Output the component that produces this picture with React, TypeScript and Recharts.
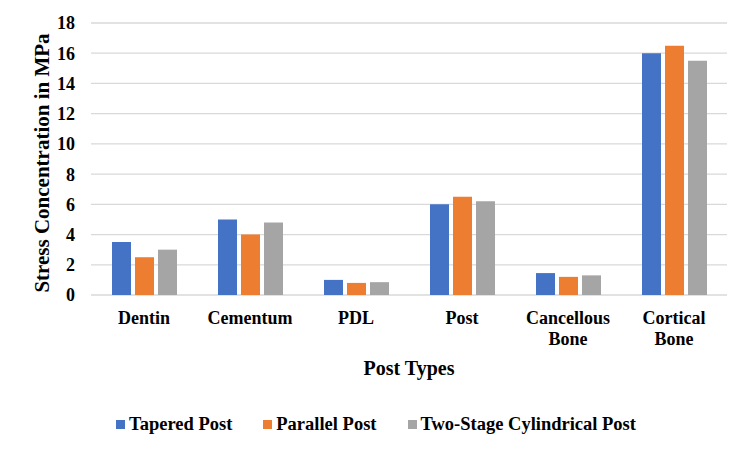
import React from 'react';
import { BarChart, Bar, XAxis, YAxis, CartesianGrid, Legend, Label } from 'recharts';

// Tooth-structure regions along the x axis
const categories = ['Dentin', 'Cementum', 'PDL', 'Post', 'Cancellous Bone', 'Cortical Bone'];

// Stress concentration (MPa) per post design
const taperedPost = [3.5, 5.0, 1.0, 6.0, 1.45, 16.0];
const parallelPost = [2.5, 4.0, 0.8, 6.5, 1.2, 16.5];
const twoStagePost = [3.0, 4.8, 0.85, 6.2, 1.3, 15.5];

const seriesNames = ['Tapered Post', 'Parallel Post', 'Two-Stage Cylindrical Post'];
const yTicks = [0, 2, 4, 6, 8, 10, 12, 14, 16, 18];
const xTitle = 'Post Types';
const yTitle = 'Stress Concentration in MPa';

const COLORS = ['#4472C4', '#ED7D31', '#A5A5A5'];
const FONT = '"Liberation Serif", "Times New Roman", serif';

const data = categories.map((name, i) => ({
  name,
  tapered: taperedPost[i],
  parallel: parallelPost[i],
  twoStage: twoStagePost[i],
}));

const CategoryTick = (props: any) => {
  const { x, y, payload } = props;
  const lines = String(payload.value).split(' ');
  return (
    <text
      x={x}
      y={y}
      textAnchor="middle"
      style={{ fontFamily: FONT, fontWeight: 'bold', fontSize: 18, fill: '#000' }}
    >
      {lines.map((line, i) => (
        <tspan key={i} x={x} dy={i === 0 ? '0.71em' : 21}>
          {line}
        </tspan>
      ))}
    </text>
  );
};

const YTitle = (props: any) => {
  const { viewBox } = props;
  const cx = 42;
  const cy = viewBox.y + viewBox.height / 2 + 4;
  return (
    <text
      x={cx}
      y={cy}
      transform={`rotate(-90 ${cx} ${cy})`}
      textAnchor="middle"
      dominantBaseline="central"
      style={{ fontFamily: FONT, fontWeight: 'bold', fontSize: 21, fill: '#000' }}
    >
      {yTitle}
    </text>
  );
};

const LegendContent = (props: any) => {
  const { payload } = props;
  return (
    <div
      style={{
        display: 'flex',
        alignItems: 'center',
        fontFamily: FONT,
        fontWeight: 'bold',
        fontSize: 18.5,
        lineHeight: '22px',
        color: '#000',
        paddingLeft: 116,
      }}
    >
      {(payload || []).map((entry: any, i: number) => (
        <div key={i} style={{ display: 'flex', alignItems: 'center', marginRight: 31 }}>
          <span
            style={{
              display: 'inline-block',
              width: 9,
              height: 9,
              background: entry.color,
              marginRight: 4,
            }}
          />
          <span>{entry.value}</span>
        </div>
      ))}
    </div>
  );
};

export default function App() {
  return (
    <div style={{ position: 'absolute', left: 0, top: 0, width: 750, height: 451, background: '#fff' }}>
      <BarChart
        width={750}
        height={451}
        data={data}
        margin={{ top: 23, right: 23, left: 0, bottom: 76 }}
        barSize={19}
        barGap={4}
      >
        <CartesianGrid vertical={false} stroke="#d9d9d9" strokeWidth={1.3} />
        <XAxis
          dataKey="name"
          axisLine={false}
          tickLine={false}
          height={80}
          tickMargin={10}
          interval={0}
          tick={<CategoryTick />}
        >
          <Label
            value={xTitle}
            position="insideBottom"
            offset={0}
            style={{ fontFamily: FONT, fontWeight: 'bold', fontSize: 20, fill: '#000' }}
          />
        </XAxis>
        <YAxis
          width={91}
          domain={[0, 18]}
          ticks={yTicks}
          axisLine={false}
          tickLine={false}
          tickMargin={10}
          tick={{ style: { fontFamily: FONT, fontWeight: 'bold', fontSize: 18, fill: '#000' } }}
        >
          <Label content={<YTitle />} />
        </YAxis>
        <Legend
          layout="horizontal"
          verticalAlign="middle"
          align="center"
          itemSorter={(item: any) => seriesNames.indexOf(item.value)}
          content={<LegendContent />}
          wrapperStyle={{ top: 413, left: 0, width: 750 }}
        />
        <Bar dataKey="tapered" name={seriesNames[0]} fill={COLORS[0]} isAnimationActive={false} />
        <Bar dataKey="parallel" name={seriesNames[1]} fill={COLORS[1]} isAnimationActive={false} />
        <Bar dataKey="twoStage" name={seriesNames[2]} fill={COLORS[2]} isAnimationActive={false} />
      </BarChart>
    </div>
  );
}
